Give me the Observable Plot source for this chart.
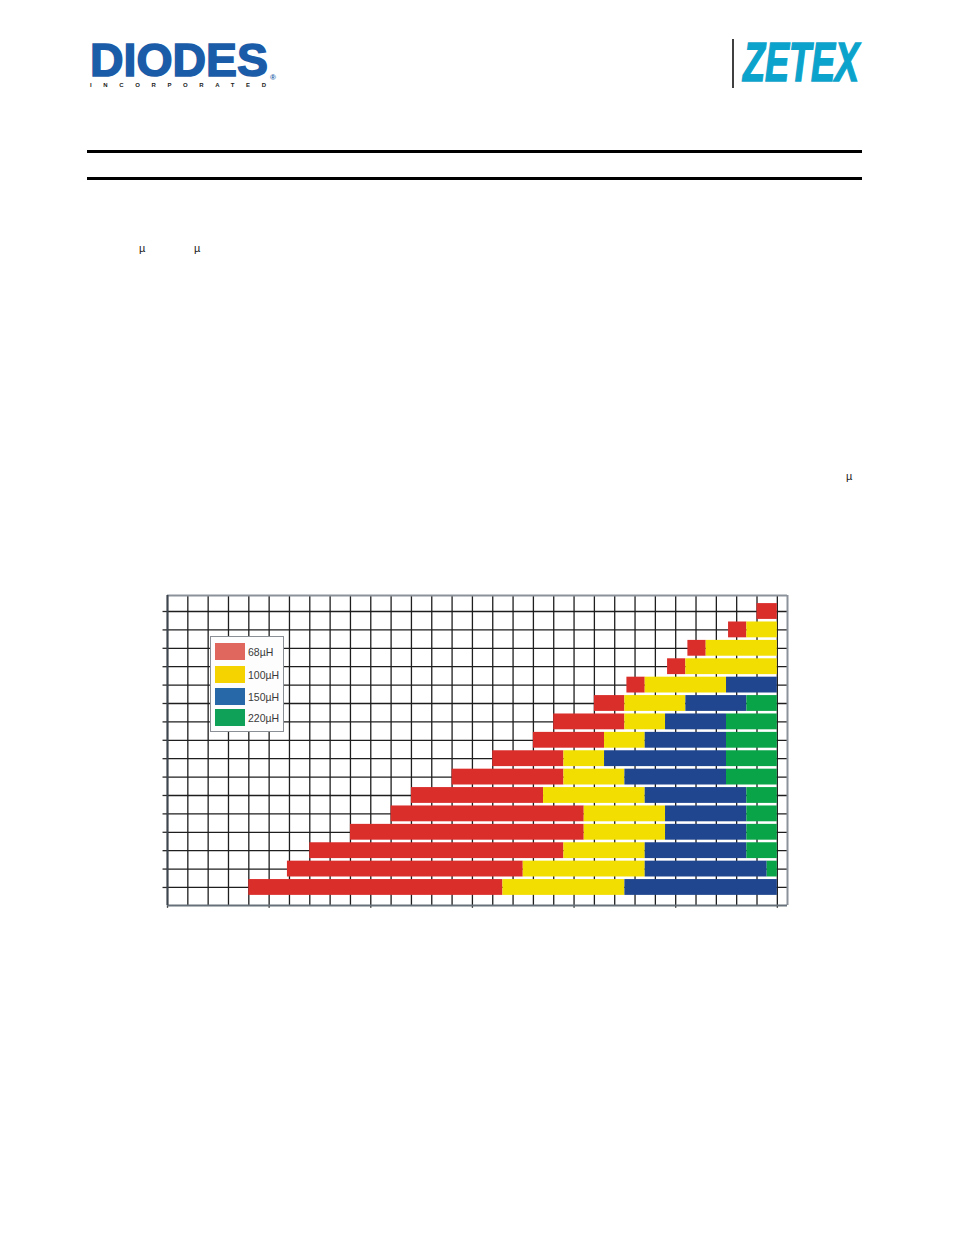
<!DOCTYPE html>
<html>
<head>
<meta charset="utf-8">
<script src="https://cdn.jsdelivr.net/npm/d3@7"></script>
<script src="https://cdn.jsdelivr.net/npm/@observablehq/plot@0.6"></script>
<style>
  html, body { margin: 0; padding: 0; background: #fff; }
  #page { position: relative; width: 954px; height: 1235px; overflow: hidden; background: #fff; }
  #deco { position: absolute; left: 0; top: 0; }
  #chart { position: absolute; left: 0; top: 570px; }
  #legend { position: absolute; left: 210px; top: 636px; width: 74px; height: 96px;
    border: 1.5px solid #8a8f96; background: #fdfdfd; box-sizing: border-box;
    font-family: "Liberation Sans", Arial, sans-serif; font-size: 10.5px; color: #3a3a3a; }
  .item { position: absolute; left: 4px; height: 17px; display: flex; align-items: center; }
  .sw { width: 30px; height: 17px; margin-right: 3px; }
</style>
</head>
<body>
<div id="page">
  <svg id="deco" width="954" height="1235" xmlns="http://www.w3.org/2000/svg">
    <text x="90" y="76" font-family="Liberation Sans, Arial, sans-serif" font-weight="bold" font-size="47" fill="#1b5ca8" stroke="#1b5ca8" stroke-width="1.6" textLength="178" lengthAdjust="spacingAndGlyphs">DIODES</text>
    <text x="90" y="87" font-family="Liberation Sans, Arial, sans-serif" font-weight="bold" font-size="6" fill="#222" textLength="176" lengthAdjust="spacing">INCORPORATED</text>
    <text x="270" y="80" font-family="Liberation Sans, Arial, sans-serif" font-weight="bold" font-size="8" fill="#1b5ca8">®</text>
    <line x1="733" y1="39" x2="733" y2="88" stroke="#000" stroke-width="1.5"/>
    <text x="743" y="81" font-family="Liberation Sans, Arial, sans-serif" font-weight="bold" font-style="italic" font-size="55" fill="#0ba3cb" stroke="#0ba3cb" stroke-width="1.6" textLength="116" lengthAdjust="spacingAndGlyphs">ZETEX</text>
    <rect x="87" y="150" width="775" height="3" fill="#000"/>
    <rect x="87" y="177" width="775" height="3" fill="#000"/>
    <text x="139" y="252" font-family="Liberation Sans, Arial, sans-serif" font-size="11" fill="#222">µ</text>
    <text x="194" y="252" font-family="Liberation Sans, Arial, sans-serif" font-size="11" fill="#222">µ</text>
    <text x="846" y="480" font-family="Liberation Sans, Arial, sans-serif" font-size="11" fill="#222">µ</text>
  </svg>
  <div id="chart"></div>
  <div id="legend"></div>
</div>
<script>
// Rows, top to bottom
const rows = [1, 2, 3, 4, 5, 6, 7, 8, 9, 10, 11, 12, 13, 14, 15, 16];
// Start of each inductor's range on each row (null = absent); all ranges end at rangeEnd
const start68  = [29.0, 27.6, 25.6, 24.6, 22.6, 21.0, 19.0, 18.0, 16.0, 14.0, 12.0, 11.0, 9.0, 7.0, 5.9, 4.0];
const start100 = [null, 28.5, 26.5, 25.5, 23.5, 22.5, 22.5, 21.5, 19.5, 19.5, 18.5, 20.5, 20.5, 19.5, 17.5, 16.5];
const start150 = [null, null, null, null, 27.5, 25.5, 24.5, 23.5, 21.5, 22.5, 23.5, 24.5, 24.5, 23.5, 23.5, 22.5];
const start220 = [null, null, null, null, null, 28.5, 27.5, 27.5, 27.5, 27.5, 28.5, 28.5, 28.5, 28.5, 29.5, null];
const rangeEnd = 30;
const seriesNames = ["68µH", "100µH", "150µH", "220µH"];
const barColors = ["#da2e2b", "#f2de00", "#20468f", "#09a348"];
const legendColors = ["#e0675d", "#f4d300", "#2668a8", "#10a159"];
const xTicksMajor = [0, 5, 10, 15, 20, 25, 30];

const starts = [start68, start100, start150, start220];
const segments = [];
rows.forEach((r, i) => {
  const s = starts.map(a => a[i]);
  s.forEach((v, k) => {
    if (v == null) return;
    let end = rangeEnd;
    for (let j = k + 1; j < s.length; j++) if (s[j] != null) { end = s[j]; break; }
    segments.push({row: r, series: seriesNames[k], x1: v, x2: end});
  });
});

const yTop = 0.13, yBot = 16.98, xMax = 30.5;

const chart = Plot.plot({
  width: 954,
  height: 360,
  marginTop: 25,
  marginBottom: 25,
  marginLeft: 167,
  marginRight: 167,
  x: {domain: [0, xMax], axis: null},
  y: {domain: [yTop, yBot], reverse: true, axis: null},
  color: {domain: seriesNames, range: barColors},
  marks: [
    Plot.ruleX(d3.range(0, 31), {stroke: "#1e1e1e", strokeWidth: 1.3}),
    Plot.ruleY(rows, {stroke: "#1e1e1e", strokeWidth: 1.3}),
    Plot.ruleY(rows, {x1: -0.22, x2: 0, stroke: "#2a2a2a", strokeWidth: 1.3}),
    Plot.ruleX(xTicksMajor, {y1: yBot, y2: yBot + 0.15, stroke: "#2a2a2a", strokeWidth: 1.3}),
    Plot.rectX(segments, {x1: "x1", x2: "x2", y1: d => d.row - 0.43, y2: d => d.row + 0.43, fill: "series"}),
    Plot.ruleY([yTop], {stroke: "#8b929a", strokeWidth: 2}),
    Plot.ruleX([xMax], {stroke: "#8b929a", strokeWidth: 2}),
    Plot.ruleY([yBot], {x1: 0, x2: xMax, stroke: "#66707b", strokeWidth: 2}),
    Plot.ruleX([0], {y1: yTop, y2: yBot, stroke: "#3d454f", strokeWidth: 2})
  ]
});
document.getElementById("chart").appendChild(chart);

const legend = document.getElementById("legend");
const itemTops = [6, 29, 51, 72];
seriesNames.forEach((name, k) => {
  const it = document.createElement("div");
  it.className = "item";
  it.style.top = itemTops[k] + "px";
  const sw = document.createElement("div");
  sw.className = "sw";
  sw.style.background = legendColors[k];
  const lab = document.createElement("span");
  lab.textContent = name;
  it.appendChild(sw);
  it.appendChild(lab);
  legend.appendChild(it);
});
</script>
</body>
</html>
